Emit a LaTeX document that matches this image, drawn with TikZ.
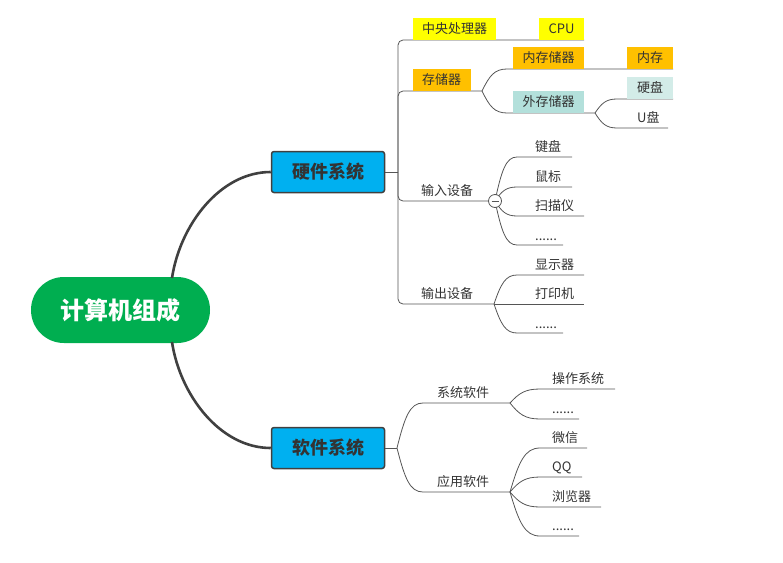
\documentclass[tikz,border=0pt]{standalone}
\usepackage{fontspec}
\setmainfont{Noto Sans CJK SC}
\usetikzlibrary{calc}
\definecolor{rootgreen}{HTML}{00AE50}
\definecolor{mainblue}{HTML}{00B0F0}
\definecolor{tagyellow}{HTML}{FFFF00}
\definecolor{tagorange}{HTML}{FFC000}
\definecolor{tagteal}{HTML}{B3E0DB}
\definecolor{taglight}{HTML}{D3ECE8}
\definecolor{linegray}{HTML}{555555}
\definecolor{txt}{HTML}{333333}
\begin{document}
\begin{tikzpicture}[x=1pt,y=-1pt,
  rootbox/.style={fill=rootgreen, rounded corners=32.9pt, minimum width=179pt, minimum height=66pt, inner sep=0pt,
    text=white, font=\bfseries\fontsize{24}{26}\selectfont},
  mainbox/.style={draw=black!75, line width=1.5pt, fill=mainblue, rounded corners=2.5pt, minimum width=113pt, minimum height=41pt,
    inner sep=0pt, text=txt, font=\bfseries\fontsize{18}{20}\selectfont},
  tag/.style={minimum height=22pt, inner sep=0pt, text=txt, font=\fontsize{13}{15}\selectfont},
  lbl/.style={anchor=base west, inner sep=0pt, text=txt, font=\fontsize{13}{15}\selectfont},
  ln/.style={draw=linegray, line width=0.8pt},
  thickln/.style={draw=black!75, line width=2.6pt},
  br/.style={to path={let \p1=(\tikztostart), \p2=(\tikztotarget) in
      .. controls ({\x1+0.3*(\x2-\x1)},{\y1+0.7*(\y2-\y1)}) and ({\x1+0.5*(\x2-\x1)},{\y2}) .. (\tikztotarget)}}
]
\useasboundingbox (0,0) rectangle (783,562);

% root and main nodes
\node[rootbox] (root) at (120.5,310) {计算机组成};
\node[mainbox] (hw) at (328,172) {硬件系统};
\node[mainbox] (sw) at (328,448) {软件系统};
\coordinate (rt) at (172,278);
\coordinate (rb) at (172,342);
\draw[thickln] (rt) .. controls (180,225) and (220,172) .. (hw.west);
\draw[thickln] (rb) .. controls (180,395) and (220,448) .. (sw.west);

% ---------------- hardware ----------------
\coordinate (hwJ) at (398,172);
\draw[ln] (hw.east) -- (hwJ);
\coordinate (cpuE) at (584,40);
\coordinate (memE) at (482,91);
\coordinate (inE) at (495,201);
\coordinate (outE) at (494,304);
\draw[ln, rounded corners=5pt] (hwJ) |- (cpuE);
\draw[ln, rounded corners=5pt] (hwJ) |- (memE);
\draw[ln, rounded corners=5pt] (hwJ) |- (inE);
\draw[ln, rounded corners=5pt] (hwJ) |- (outE);

\node[tag, fill=tagyellow, minimum width=83pt] (cpuL) at (454.5,28.5) {中央处理器};
\node[tag, fill=tagyellow, minimum width=45pt] (cpu) at (561.5,28.5) {CPU};
\node[tag, fill=tagorange, minimum width=58pt] (mem) at (441.5,80) {存储器};

% memory sub-branches
\coordinate (innS) at (507,69);
\coordinate (innE) at (673,69);
\coordinate (extS) at (507,113);
\coordinate (extE) at (595,113);
\draw[ln] (memE) to[br] (innS) -- (innE);
\draw[ln] (memE) to[br] (extS) -- (extE);
\node[tag, fill=tagorange, minimum width=71pt] (inner) at (548.5,58) {内存储器};
\node[tag, fill=tagorange, minimum width=46pt] (ram) at (650,58) {内存};
\node[tag, fill=tagteal, minimum width=71pt] (outer) at (548.5,102) {外存储器};

\coordinate (hdS) at (617,99);
\coordinate (hdE) at (673,99);
\coordinate (usbS) at (617,128);
\coordinate (usbE) at (668,128);
\draw[ln] (extE) to[br] (hdS) -- (hdE);
\draw[ln] (extE) to[br] (usbS) -- (usbE);
\node[tag, fill=taglight, minimum width=46pt] (hd) at (650,88) {硬盘};
\node[lbl] (usb) at (637,122) {U盘};

% input devices
\node[lbl] (inL) at (421,195) {输入设备};
\coordinate (kbS) at (517,157) ; \coordinate (kbE) at (572,157);
\coordinate (msS) at (517,187) ; \coordinate (msE) at (572,187);
\coordinate (scS) at (517,216) ; \coordinate (scE) at (584,216);
\coordinate (i4S) at (517,245) ; \coordinate (i4E) at (563,245);
\draw[ln] (inE) to[br] (kbS) -- (kbE);
\draw[ln] (inE) to[br] (msS) -- (msE);
\draw[ln] (inE) to[br] (scS) -- (scE);
\draw[ln] (inE) to[br] (i4S) -- (i4E);
\node[circle, draw=linegray, fill=white, line width=0.8pt, minimum size=13pt, inner sep=0pt] (fold) at (inE) {};
\draw[ln] ($(fold.center)+(-3.5,0)$) -- ($(fold.center)+(3.5,0)$);
\node[lbl] (kb) at (535,151) {键盘};
\node[lbl] (ms) at (535,181) {鼠标};
\node[lbl] (sc) at (535,210) {扫描仪};
\node[lbl] (i4) at (535,240) {......};

% output devices
\node[lbl] (outL) at (421,298) {输出设备};
\coordinate (dpS) at (517,275) ; \coordinate (dpE) at (584,275);
\coordinate (prE) at (584,304);
\coordinate (o3S) at (517,333) ; \coordinate (o3E) at (563,333);
\draw[ln] (outE) to[br] (dpS) -- (dpE);
\draw[ln] (outE) -- (prE);
\draw[ln] (outE) to[br] (o3S) -- (o3E);
\node[lbl] (dp) at (535,269) {显示器};
\node[lbl] (pr) at (535,298) {打印机};
\node[lbl] (o3) at (535,328) {......};

% ---------------- software ----------------
\coordinate (swJ) at (397,448);
\draw[ln] (sw.east) -- (swJ);
\coordinate (sysS) at (423,403); \coordinate (sysE) at (510,403);
\coordinate (appS) at (423,492); \coordinate (appE) at (510,492);
\draw[ln] (swJ) to[br] (sysS) -- (sysE);
\draw[ln] (swJ) to[br] (appS) -- (appE);
\node[lbl] (sys) at (437,397) {系统软件};
\node[lbl] (app) at (437,486) {应用软件};

\coordinate (osS) at (540,389); \coordinate (osE) at (615,389);
\coordinate (s2S) at (540,419); \coordinate (s2E) at (579,419);
\draw[ln] (sysE) to[br] (osS) -- (osE);
\draw[ln] (sysE) to[br] (s2S) -- (s2E);
\node[lbl] (os) at (552,383) {操作系统};
\node[lbl] (s2) at (552,413) {......};

\coordinate (wxS) at (540,448); \coordinate (wxE) at (587,448);
\coordinate (qqS) at (540,477); \coordinate (qqE) at (582,477);
\coordinate (brS) at (540,507); \coordinate (brE) at (601,507);
\coordinate (a4S) at (540,536); \coordinate (a4E) at (579,536);
\draw[ln] (appE) to[br] (wxS) -- (wxE);
\draw[ln] (appE) to[br] (qqS) -- (qqE);
\draw[ln] (appE) to[br] (brS) -- (brE);
\draw[ln] (appE) to[br] (a4S) -- (a4E);
\node[lbl] (wx) at (552,442) {微信};
\node[lbl] (qq) at (552,471) {QQ};
\node[lbl] (bw) at (552,501) {浏览器};
\node[lbl] (a4) at (552,530) {......};
\end{tikzpicture}
\end{document}
